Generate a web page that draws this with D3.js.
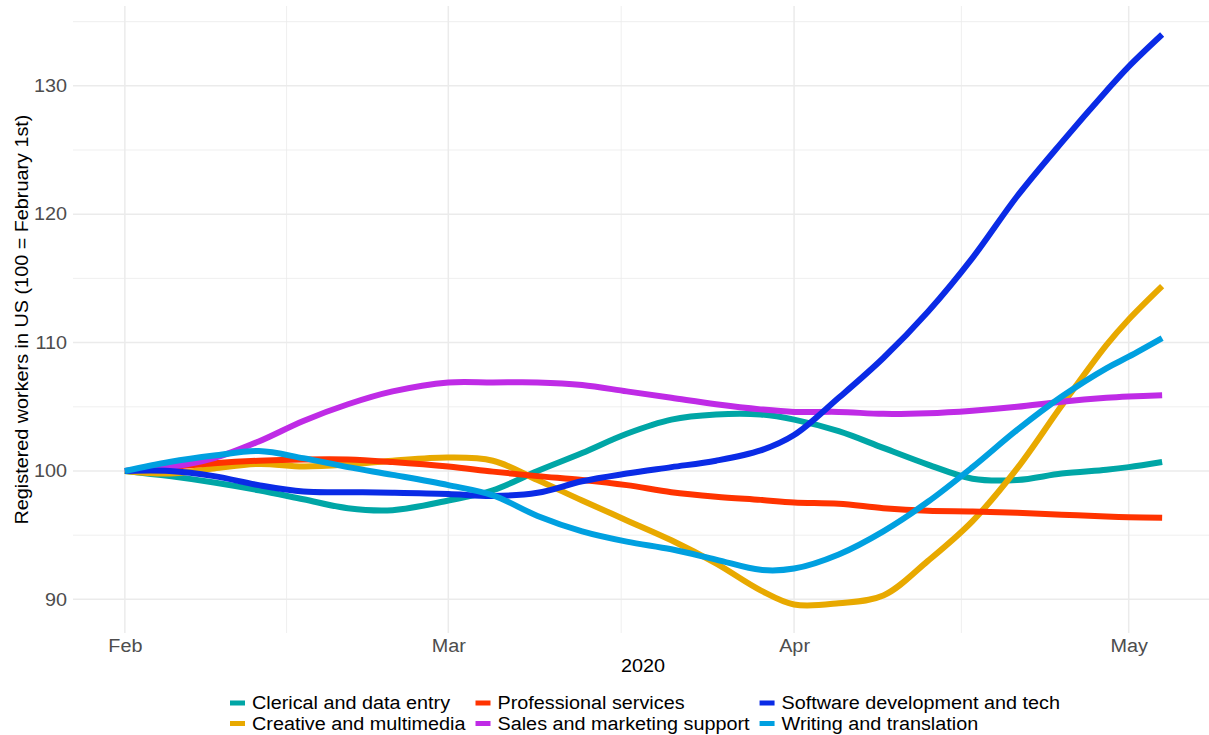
<!DOCTYPE html>
<html>
<head>
<meta charset="utf-8">
<script src="https://cdn.jsdelivr.net/npm/d3@7"></script>
<style>
  html, body { margin: 0; padding: 0; background: #fff; }
  svg { display: block; font-family: "Liberation Sans", Arial, Helvetica, sans-serif; }
</style>
</head>
<body>
<svg id="chart" width="1209" height="735"></svg>
<script>
// ---- Data ----
const days = [0, 4, 8, 12, 16, 20, 24, 29, 33, 37, 41, 45, 49, 53, 57, 60, 64, 68, 72, 76, 80, 84, 88, 90, 93]; // days since 2020-02-01

const seriesNames = [
  "Clerical and data entry",
  "Creative and multimedia",
  "Professional services",
  "Sales and marketing support",
  "Software development and tech",
  "Writing and translation"
];

const clerical     = [100, 99.6, 99.1, 98.5, 97.8, 97.1, 96.95, 97.7, 98.5, 100.0, 101.4, 102.9, 104.0, 104.4, 104.4, 104.0, 103.1, 101.8, 100.5, 99.4, 99.3, 99.8, 100.1, 100.3, 100.7];
const creative     = [100, 99.8, 100.2, 100.55, 100.35, 100.5, 100.8, 101.05, 100.8, 99.3, 97.7, 96.15, 94.6, 92.8, 90.7, 89.6, 89.7, 90.3, 93.0, 96.1, 100.2, 105.1, 109.8, 111.8, 114.4];
const professional = [100, 100.3, 100.6, 100.8, 100.9, 100.9, 100.7, 100.35, 99.95, 99.6, 99.3, 98.9, 98.35, 98.0, 97.75, 97.55, 97.45, 97.1, 96.9, 96.85, 96.75, 96.6, 96.45, 96.4, 96.35];
const sales        = [100, 100.3, 101.0, 102.3, 103.9, 105.2, 106.2, 106.9, 106.9, 106.9, 106.7, 106.2, 105.7, 105.2, 104.8, 104.6, 104.6, 104.45, 104.5, 104.7, 105.0, 105.4, 105.7, 105.8, 105.9];
const software     = [100, 100.0, 99.6, 98.9, 98.4, 98.35, 98.3, 98.2, 98.05, 98.3, 99.2, 99.8, 100.3, 100.8, 101.6, 102.8, 105.7, 108.8, 112.4, 116.6, 121.4, 125.6, 129.6, 131.5, 134.0];
const writing      = [100, 100.7, 101.2, 101.55, 101.0, 100.3, 99.7, 98.9, 98.1, 96.5, 95.3, 94.5, 93.9, 93.1, 92.3, 92.4, 93.5, 95.3, 97.6, 100.3, 103.2, 105.8, 108.0, 108.9, 110.35];

const seriesValues = [clerical, creative, professional, sales, software, writing];
const seriesColors = ["#00A6A6", "#E8A900", "#FF3300", "#BF2BE6", "#0A2BE6", "#00A0E0"];

const yTicks = [90, 100, 110, 120, 130];
const xTickLabels = ["Feb", "Mar", "Apr", "May"];
const xTickDates = [new Date(2020, 1, 1), new Date(2020, 2, 1), new Date(2020, 3, 1), new Date(2020, 4, 1)];
const yTitle = "Registered workers in US (100 = February 1st)";
const xTitle = "2020";

// ---- Build series ----
const start = new Date(2020, 1, 1);
const dayMs = 86400000;
const toDate = d => new Date(start.getTime() + d * dayMs);
const series = seriesNames.map((name, i) => ({
  name, color: seriesColors[i],
  values: days.map((d, j) => ({ date: toDate(d), v: seriesValues[i][j] }))
}));

// ---- Layout ----
const svg = d3.select("#chart");
const plot = { left: 73, right: 1214, top: 6, bottom: 633 };
const visRight = 1209;

const xMin = d3.min(days), xMax = d3.max(days);
const xPad = (xMax - xMin) * 0.05;
const x = d3.scaleTime()
  .domain([toDate(xMin - xPad), toDate(xMax + xPad)])
  .range([plot.left, plot.right]);

const allV = seriesValues.flat();
const vMin = d3.min(allV), vMax = d3.max(allV);
const yPad = (vMax - vMin) * 0.05;
const y = d3.scaleLinear()
  .domain([vMin - yPad, vMax + yPad])
  .range([plot.bottom, plot.top]);

const fontSize = 18;
const stretch = 1.1;   // reference glyphs are slightly wide
const grey = "#4D4D4D";

function widen(sel, k) {
  sel.each(function () {
    const len = this.getComputedTextLength();
    d3.select(this).attr("textLength", len * k).attr("lengthAdjust", "spacingAndGlyphs");
  });
}

// ---- Grid ----
const grid = svg.append("g");
const yMinor = d3.range(85, 140, 10).filter(v => v >= y.domain()[0] && v <= y.domain()[1]);
grid.selectAll("line.ymin").data(yMinor).enter().append("line")
  .attr("x1", plot.left).attr("x2", visRight)
  .attr("y1", d => y(d)).attr("y2", d => y(d))
  .attr("stroke", "#EBEBEB").attr("stroke-width", 0.8);
const xMinor = [];
for (let i = 0; i < xTickDates.length - 1; i++) {
  xMinor.push(new Date((xTickDates[i].getTime() + xTickDates[i + 1].getTime()) / 2));
}
grid.selectAll("line.xmin").data(xMinor).enter().append("line")
  .attr("x1", d => x(d)).attr("x2", d => x(d))
  .attr("y1", plot.top).attr("y2", plot.bottom)
  .attr("stroke", "#EBEBEB").attr("stroke-width", 0.8);
grid.selectAll("line.ymaj").data(yTicks).enter().append("line")
  .attr("x1", plot.left).attr("x2", visRight)
  .attr("y1", d => y(d)).attr("y2", d => y(d))
  .attr("stroke", "#EBEBEB").attr("stroke-width", 1.5);
grid.selectAll("line.xmaj").data(xTickDates).enter().append("line")
  .attr("x1", d => x(d)).attr("x2", d => x(d))
  .attr("y1", plot.top).attr("y2", plot.bottom)
  .attr("stroke", "#EBEBEB").attr("stroke-width", 1.5);

// ---- Axes ----
const yAxis = d3.axisLeft(y).tickValues(yTicks).tickSize(0).tickPadding(6).tickFormat(d3.format("d"));
const gy = svg.append("g").attr("transform", `translate(${plot.left},0)`).call(yAxis);
gy.select(".domain").remove();
gy.selectAll("text").attr("fill", grey).style("font-size", fontSize + "px").attr("font-family", null);
widen(gy.selectAll("text"), stretch);

const xAxis = d3.axisBottom(x).tickValues(xTickDates).tickSize(0).tickPadding(6)
  .tickFormat((d, i) => xTickLabels[i]);
const gx = svg.append("g").attr("transform", `translate(0,${plot.bottom})`).call(xAxis);
gx.select(".domain").remove();
gx.selectAll("text").attr("fill", grey).style("font-size", fontSize + "px").attr("font-family", null);
widen(gx.selectAll("text"), stretch);

// titles
const yt = svg.append("text")
  .attr("transform", `translate(22,${(plot.top + plot.bottom) / 2}) rotate(-90)`)
  .attr("text-anchor", "middle").attr("dominant-baseline", "central")
  .style("font-size", fontSize + "px").attr("fill", "#000")
  .text(yTitle);
widen(yt, 1.1);
const xt = svg.append("text")
  .attr("x", (plot.left + visRight) / 2 + 2).attr("y", 666)
  .attr("text-anchor", "middle").attr("dominant-baseline", "central")
  .style("font-size", fontSize + "px").attr("fill", "#000")
  .text(xTitle);
widen(xt, stretch);

// ---- Lines ----
const line = d3.line()
  .x(d => x(d.date)).y(d => y(d.v))
  .curve(d3.curveCatmullRom.alpha(0.5));
svg.append("g").selectAll("path").data(series).enter().append("path")
  .attr("d", d => line(d.values))
  .attr("fill", "none")
  .attr("stroke", d => d.color)
  .attr("stroke-width", 6)
  .attr("stroke-linecap", "butt")
  .attr("stroke-linejoin", "round");

// ---- Legend (2 rows, filled by column) ----
const legend = svg.append("g");
const rowsY = [703, 723.5];
const keyW = 15, keyH = 5, keyGap = 7, colGap = 10;
const nCols = Math.ceil(series.length / 2);
let colX = 230;
for (let c = 0; c < nCols; c++) {
  const items = series.slice(c * 2, c * 2 + 2);
  let maxW = 0;
  items.forEach((s, r) => {
    legend.append("rect")
      .attr("x", colX).attr("y", rowsY[r] - keyH / 2)
      .attr("width", keyW).attr("height", keyH)
      .attr("fill", s.color);
    const t = legend.append("text")
      .attr("x", colX + keyW + keyGap).attr("y", rowsY[r])
      .attr("dominant-baseline", "central")
      .style("font-size", fontSize + "px").attr("fill", "#000")
      .text(s.name);
    const w = t.node().getComputedTextLength() * stretch;
    t.attr("textLength", w).attr("lengthAdjust", "spacingAndGlyphs");
    maxW = Math.max(maxW, w);
  });
  colX = colX + keyW + keyGap + maxW + colGap;
}
</script>
</body>
</html>
